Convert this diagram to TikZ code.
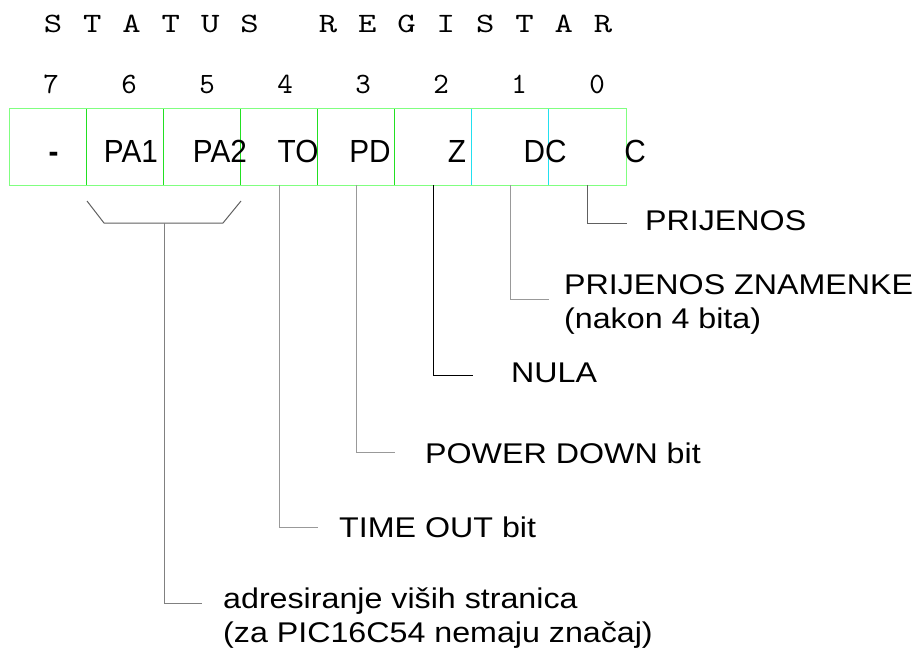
\documentclass[tikz,border=0pt]{standalone}
\usepackage{fontspec}
\setmainfont{Liberation Sans}
\newfontfamily\notefont[FakeStretch=1.13]{Liberation Sans}
\newfontfamily\flagfont[FakeStretch=0.93]{Liberation Sans}
\newfontfamily\titlefont[FakeStretch=1.25]{lmmono10-regular.otf}
\newfontfamily\numfont{lmmono10-regular.otf}
\definecolor{framegreen}{HTML}{80FF80}
\definecolor{divgreen}{HTML}{22E022}
\definecolor{divcyan}{HTML}{22E0F0}
\definecolor{leadgray}{HTML}{999999}
\definecolor{darkgray}{HTML}{606060}
\tikzset{
  cell/.style={minimum width=77pt,minimum height=76pt,inner sep=0pt},
  flag/.style={font=\flagfont\fontsize{32}{36}\selectfont,inner sep=0pt,anchor=base},
  ttl/.style={font=\titlefont\fontsize{28}{28}\selectfont,inner sep=0pt,anchor=base},
  num/.style={font=\numfont\fontsize{29.5}{30}\selectfont,inner sep=0pt,anchor=base},
  note/.style={font=\notefont\fontsize{28.5}{34}\selectfont,inner sep=0pt,align=left},
  lead/.style={leadgray,line width=1pt}
}
\begin{document}
\begin{tikzpicture}[x=1pt,y=-1pt]
	\useasboundingbox (0,0) rectangle (920,650);
	% naslov
	\foreach \c [count=\i from 0] in {S,T,A,T,U,S}
	\node[ttl] (t\i) at (53+39.3*\i,33) {\c};
	\foreach \c [count=\i from 0] in {R,E,G,I,S,T,A,R}
	\node[ttl] (r\i) at (328+39.3*\i,33) {\c};
	% brojevi bitova
	\foreach \b [count=\i from 0] in {7,...,0}
	\node[num] (n\b) at (51+78*\i,94) {\b};
	% celije registra
	\foreach \b [count=\i from 0] in {7,...,0}
	\node[cell] (b\b) at (48.5+77*\i,147) {};
	\foreach \b in {6,5,4,3,2}
	\draw[divgreen,line width=1pt] (b\b.north west) -- (b\b.south west);
	\foreach \b in {1,0}
	\draw[divcyan,line width=1pt] (b\b.north west) -- (b\b.south west);
	\draw[framegreen,line width=1pt] (b7.north west) rectangle (b0.south east);
	\foreach \x/\t [count=\i from 0] in {53.5/{\bfseries -},131/PA1,220/PA2,298/TO,370/PD,457/Z,545/DC,635/C}
	\node[flag] (l\i) at (\x,162) {\t};
	% opisi
	\coordinate (e0) at (627,223);
	\coordinate (e1) at (549,299);
	\coordinate (e2) at (473,375);
	\coordinate (e3) at (395,452);
	\coordinate (e4) at (318,527);
	\coordinate (pa) at (164,223);
	\coordinate (e65) at (202,603);
	\draw[darkgray,line width=1pt] (b0.south) |- (e0);
	\draw[lead] (b1.south) |- (e1);
	\draw[black,line width=1pt] (b2.south) |- (e2);
	\draw[lead] (b3.south) |- (e3);
	\draw[lead] (b4.south) |- (e4);
	\draw[darkgray,line width=1pt] (87,201) -- (104,223) -- (223,223) -- (241,201);
	\draw[darkgray!80,line width=1pt] (pa) |- (e65);
	\node[note,anchor=base west] (c) at (645,230) {PRIJENOS};
	\node[note,anchor=north west] (dc) at (564,274.6) {PRIJENOS ZNAMENKE\\(nakon 4 bita)};
	\node[note,anchor=base west] (z) at (511,382) {NULA};
	\node[note,anchor=base west] (pd) at (425,463) {POWER DOWN bit};
	\node[note,anchor=base west] (to) at (339,537) {TIME OUT bit};
	\node[note,anchor=north west] (pa1) at (223,587.5) {adresiranje viših stranica\\(za PIC16C54 nemaju značaj)};
\end{tikzpicture}
\end{document}
